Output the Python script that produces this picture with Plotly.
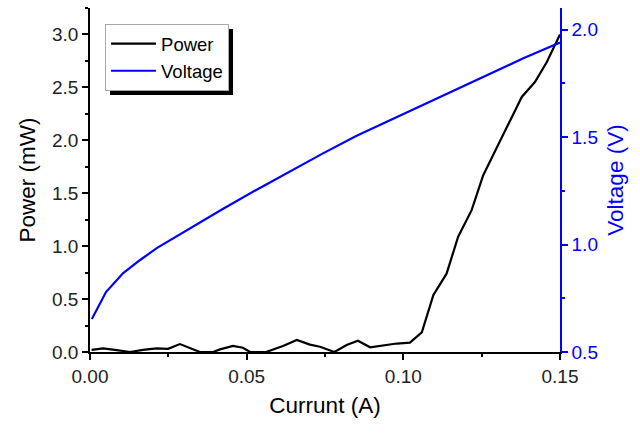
import plotly.graph_objects as go

# Power curve (x in A, y in mW)
current_p = [0.0005, 0.0042, 0.0085, 0.0128, 0.0169, 0.0213, 0.0249, 0.0287, 0.0351, 0.0393,
             0.0415, 0.0456, 0.0488, 0.0511, 0.0562, 0.0585, 0.0616, 0.0660, 0.0702, 0.0734,
             0.0780, 0.0819, 0.0855, 0.0894, 0.0936, 0.0979, 0.1021, 0.1059, 0.1096, 0.1138,
             0.1175, 0.1218, 0.1255, 0.1298, 0.1340, 0.1378, 0.1420, 0.1458, 0.1500]
power = [0.02, 0.035, 0.018, 0.0, 0.02, 0.035, 0.03, 0.075, 0.0, 0.0,
         0.025, 0.057, 0.04, 0.0, 0.0, 0.025, 0.057, 0.113, 0.07, 0.05,
         0.0, 0.066, 0.107, 0.045, 0.065, 0.08, 0.088, 0.186, 0.54, 0.74,
         1.09, 1.34, 1.67, 1.93, 2.19, 2.41, 2.55, 2.74, 3.0]

# Voltage curve (x in A, y in V)
current_v = [0.0006, 0.0051, 0.0106, 0.0160, 0.0213, 0.0319, 0.0425, 0.0532, 0.0638, 0.0745,
             0.0851, 0.0957, 0.1064, 0.1170, 0.1277, 0.1383, 0.1500]
voltage = [0.654, 0.779, 0.867, 0.928, 0.983, 1.076, 1.166, 1.255, 1.340, 1.425,
           1.506, 1.578, 1.650, 1.722, 1.795, 1.866, 1.939]

FONT = "Liberation Sans, Arial, sans-serif"
BLUE = "#0000FF"

fig = go.Figure()
fig.add_trace(go.Scatter(x=current_p, y=power, mode="lines", name="Power",
                         line=dict(color="black", width=2.2)))
fig.add_trace(go.Scatter(x=current_v, y=voltage, mode="lines", name="Voltage",
                         line=dict(color=BLUE, width=2.2), yaxis="y2"))

# legend shadow (paper coords)
fig.add_shape(type="rect", xref="paper", yref="paper",
              x0=0.0426, x1=0.3043, y0=0.747, y1=0.939,
              fillcolor="black", line=dict(width=0), layer="above")

fig.update_layout(
    width=640, height=435, autosize=False,
    margin=dict(l=90, r=80, t=8, b=83),
    paper_bgcolor="white", plot_bgcolor="white",
    font=dict(family=FONT, size=19, color="#222"),
    showlegend=True,
    legend=dict(x=0.032, y=0.953, xanchor="left", yanchor="top",
                bgcolor="white", bordercolor="#aaa", borderwidth=1,
                font=dict(size=18.5, color="black"), tracegroupgap=0,
                itemwidth=45),
    xaxis=dict(range=[0, 0.15], dtick=0.05, tickformat=".2f",
               showline=True, linecolor="black", linewidth=1.5,
               ticks="outside", ticklen=6, tickwidth=1.5, tickcolor="black",
               minor=dict(ticks="outside", ticklen=3, dtick=0.025, tickcolor="black", tickwidth=1.5),
               showgrid=False, zeroline=False, tickfont=dict(size=19),
               title=dict(text="Currunt (A)", font=dict(size=22.5, color="black"), standoff=12)),
    xaxis2=dict(range=[0, 0.15], dtick=0.05, overlaying="x", side="top", anchor="y",
                showline=True, linecolor="black", linewidth=1.5,
                ticks="inside", ticklen=5, tickwidth=1.5, tickcolor="black",
                minor=dict(ticks="inside", ticklen=3, dtick=0.025, tickcolor="black", tickwidth=1.5),
                showticklabels=False, showgrid=False, zeroline=False),
    yaxis=dict(range=[0, 3.25], dtick=0.5, tickformat=".1f",
               showline=True, linecolor="black", linewidth=1.5,
               ticks="outside", ticklen=6, tickwidth=1.5, tickcolor="black",
               minor=dict(ticks="outside", ticklen=3, dtick=0.25, tickcolor="black", tickwidth=1.5),
               showgrid=False, zeroline=False, tickfont=dict(size=19),
               title=dict(text="Power (mW)", font=dict(size=22.5, color="black"), standoff=10)),
    yaxis2=dict(range=[0.5, 2.1], dtick=0.5, tickformat=".1f", overlaying="y", side="right",
                showline=True, linecolor=BLUE, linewidth=1.5,
                ticks="outside", ticklen=6, tickwidth=1.5, tickcolor=BLUE,
                minor=dict(ticks="outside", ticklen=3, dtick=0.25, tickcolor=BLUE, tickwidth=1.5),
                tickfont=dict(color=BLUE, size=19),
                showgrid=False, zeroline=False,
                title=dict(text="Voltage (V)", font=dict(size=22.5, color=BLUE), standoff=10)),
)

fig.write_html("out.html")
